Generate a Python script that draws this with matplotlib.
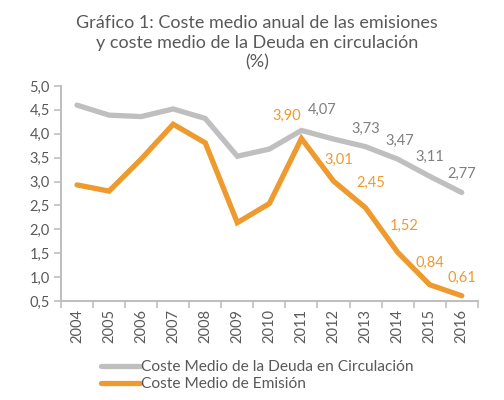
import numpy as np
import matplotlib
matplotlib.use("Agg")
import matplotlib.pyplot as plt
from matplotlib.ticker import FixedLocator, FuncFormatter

plt.rcParams['font.family'] = ['Lato', 'DejaVu Sans']

years = ["2004", "2005", "2006", "2007", "2008", "2009", "2010",
         "2011", "2012", "2013", "2014", "2015", "2016"]
deuda = [4.60, 4.39, 4.36, 4.52, 4.32, 3.53, 3.68, 4.07, 3.89, 3.73, 3.47, 3.11, 2.77]
emision = [2.93, 2.80, 3.47, 4.20, 3.81, 2.14, 2.54, 3.90, 3.01, 2.45, 1.52, 0.84, 0.61]

# offsets (pixels) of the value labels, only from 2011 on
deuda_off = {7: (21, 21), 8: None, 9: (0, 18), 10: (2, 18), 11: (0, 19), 12: (0, 19)}
emision_off = {7: (-15, 23), 8: (5, 21), 9: (5, 25), 10: (7, 26), 11: (0, 22), 12: (0, 18)}

gray = "#BFBFBF"
orange = "#EE9A2E"
txt = "#595959"

fig = plt.figure(figsize=(5.04, 4.0), dpi=100)
ax = fig.add_axes([0.121, 0.2475, 0.827, 0.5375])

x = np.arange(len(years))
ax.plot(x, deuda, color=gray, lw=3.8, solid_capstyle='round', solid_joinstyle='miter',
        label="Coste Medio de la Deuda en Circulación")
ax.plot(x, emision, color=orange, lw=3.8, solid_capstyle='round', solid_joinstyle='miter',
        label="Coste Medio de Emisión")

for i, off in deuda_off.items():
    if off is None:
        continue
    ax.annotate("{:.2f}".format(deuda[i]).replace(".", ","), (x[i], deuda[i]),
                xytext=(off[0] * 0.72, off[1] * 0.72), textcoords="offset points",
                ha="center", va="center", color="#7F7F7F", fontsize=10.5)
for i, off in emision_off.items():
    ax.annotate("{:.2f}".format(emision[i]).replace(".", ","), (x[i], emision[i]),
                xytext=(off[0] * 0.72, off[1] * 0.72), textcoords="offset points",
                ha="center", va="center", color=orange, fontsize=10.5)

ax.set_xlim(-0.5, len(years) - 0.5)
ax.set_ylim(0.5, 5.0)
ax.set_yticks(np.arange(0.5, 5.01, 0.5))
ax.yaxis.set_major_formatter(FuncFormatter(lambda v, p: "{:.1f}".format(v).replace(".", ",")))

ax.set_xticks(x)
ax.set_xticklabels(years, rotation=90)
ax.xaxis.set_minor_locator(FixedLocator(np.arange(-0.5, len(years), 1.0)))
ax.tick_params(axis='x', which='major', length=0, pad=6, labelsize=10.5, labelcolor=txt)
ax.tick_params(axis='x', which='minor', length=5, color=gray, width=1.2)
ax.tick_params(axis='y', length=5, color=gray, width=1.2, labelsize=10.5, labelcolor=txt, pad=3)

for s in ["top", "right"]:
    ax.spines[s].set_visible(False)
for s in ["left", "bottom"]:
    ax.spines[s].set_color(gray)
    ax.spines[s].set_linewidth(1.5)

fig.text(0.51, 0.893, "Gráfico 1: Coste medio anual de las emisiones\ny coste medio de la Deuda en circulación\n(%)",
         ha="center", va="center", fontsize=13, color=txt, linespacing=1.25)

leg = fig.legend(loc="upper left", bbox_to_anchor=(0.2, 0.1), frameon=False,
                 fontsize=11.2, handlelength=2.5, handletextpad=0.1, labelspacing=0.2,
                 borderaxespad=0, borderpad=0)
for t in leg.get_texts():
    t.set_color(txt)

fig.savefig("out.png", dpi=100)
